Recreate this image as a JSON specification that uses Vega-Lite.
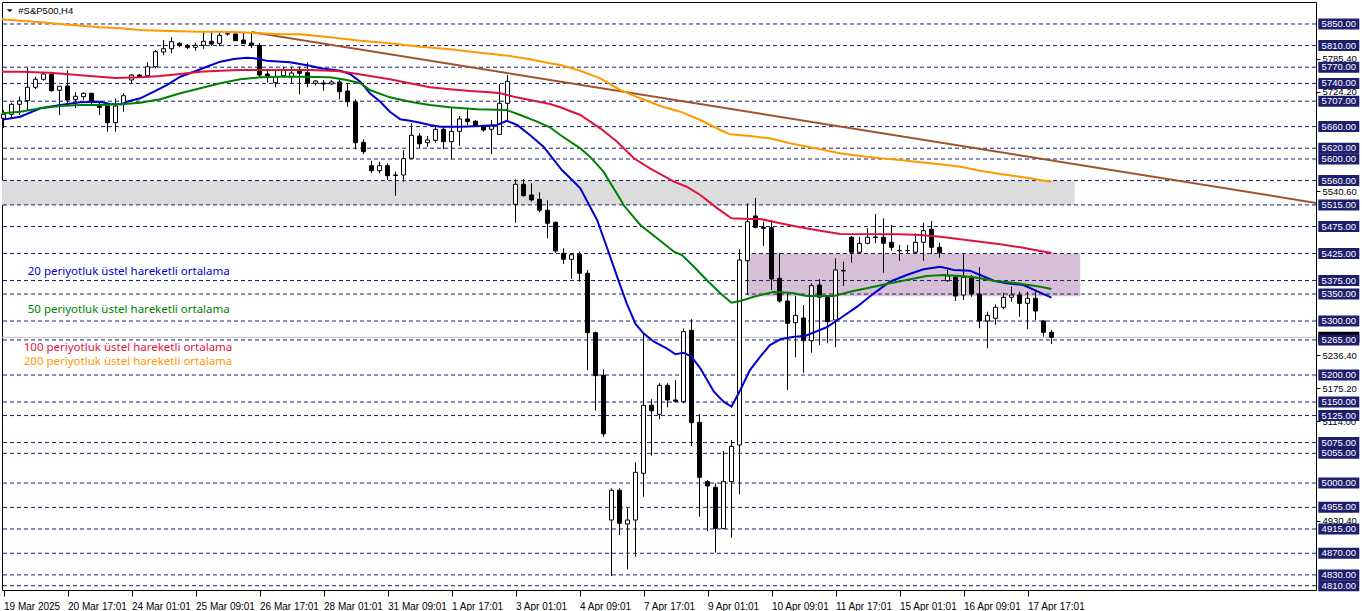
{
  "$schema": "https://vega.github.io/schema/vega-lite/v6.json",
  "width": 1314,
  "height": 588,
  "autosize": {"type": "none"},
  "padding": {"left": 2, "top": 2, "right": 46, "bottom": 21},
  "background": "white",
  "config": {"view": {"stroke": "black", "strokeWidth": 1}, "scale": {"continuousPadding": 0}},
  "datasets": {
    "zones": [
      {"z": "gray", "i0": -1, "i1": 133.9, "p0": 5515, "p1": 5560},
      {"z": "purple", "i0": 93, "i1": 134.6, "p0": 5346, "p1": 5425}
    ],
    "levels": [
      {"p": 5850}, {"p": 5810}, {"p": 5770}, {"p": 5740}, {"p": 5707}, {"p": 5660}, {"p": 5620}, {"p": 5600}, {"p": 5560},
      {"p": 5515}, {"p": 5475}, {"p": 5425}, {"p": 5375}, {"p": 5350}, {"p": 5300}, {"p": 5265}, {"p": 5200}, {"p": 5150},
      {"p": 5125}, {"p": 5075}, {"p": 5055}, {"p": 5000}, {"p": 4955}, {"p": 4915}, {"p": 4870}, {"p": 4830}, {"p": 4810}
    ],
    "bid": [{"p": 5269.8}],
    "trend": [{"i": 31, "p": 5835}, {"i": 170, "p": 5504.6}],
    "header": [{"t": "#S&P500,H4", "i": 1.85, "ti": 0.775, "p": 5874.6}],
    "notes": [
      {"n": "20", "t": "20 periyotluk üstel hareketli ortalama", "i": 3.03, "p": 5391.3},
      {"n": "50", "t": "50 periyotluk üstel hareketli ortalama", "i": 3.03, "p": 5320.4},
      {"n": "100", "t": "100 periyotluk üstel hareketli ortalama", "i": 2.53, "p": 5250.5},
      {"n": "200", "t": "200 periyotluk üstel hareketli ortalama", "i": 2.53, "p": 5225}
    ],
    "candles": [
      {"i":0,"o":5675.4,"h":5690.7,"l":5657.4,"c":5682.8},
      {"i":1,"o":5682.8,"h":5703.7,"l":5676,"c":5701.3},
      {"i":2,"o":5701.3,"h":5715.4,"l":5681.5,"c":5707.4},
      {"i":3,"o":5708,"h":5769,"l":5690.7,"c":5732.8},
      {"i":4,"o":5732.8,"h":5752.4,"l":5729.6,"c":5747.6},
      {"i":5,"o":5747.6,"h":5758.7,"l":5745,"c":5757.4},
      {"i":6,"o":5756.8,"h":5758.7,"l":5724.6,"c":5726.5},
      {"i":7,"o":5727.2,"h":5735.2,"l":5681.5,"c":5734.6},
      {"i":8,"o":5735.2,"h":5764.2,"l":5703.1,"c":5709.3},
      {"i":9,"o":5710.5,"h":5723.5,"l":5693.9,"c":5716.1},
      {"i":10,"o":5715.4,"h":5723.5,"l":5709.3,"c":5721.7},
      {"i":11,"o":5721.7,"h":5722.2,"l":5701.8,"c":5706.1},
      {"i":12,"o":5701.3,"h":5706.1,"l":5681.5,"c":5695.7},
      {"i":13,"o":5698.1,"h":5701.8,"l":5650.6,"c":5667.2},
      {"i":14,"o":5667.2,"h":5712.4,"l":5650.6,"c":5698.1},
      {"i":15,"o":5703.1,"h":5721.7,"l":5687.6,"c":5717.2},
      {"i":16,"o":5746.3,"h":5757.4,"l":5740.2,"c":5755.5},
      {"i":17,"o":5755.5,"h":5756.8,"l":5751.8,"c":5752.4},
      {"i":18,"o":5754.2,"h":5779,"l":5752.4,"c":5770.9},
      {"i":19,"o":5770.9,"h":5801.8,"l":5768,"c":5798.7},
      {"i":20,"o":5798.1,"h":5820.3,"l":5792.6,"c":5804.2},
      {"i":21,"o":5804.2,"h":5825.3,"l":5795.7,"c":5817.2},
      {"i":22,"o":5814.2,"h":5816.1,"l":5806.8,"c":5810.5},
      {"i":23,"o":5810.5,"h":5813,"l":5803.7,"c":5806.8},
      {"i":24,"o":5806.8,"h":5815.4,"l":5800.5,"c":5810.5},
      {"i":25,"o":5810.5,"h":5834.6,"l":5804.2,"c":5817.9},
      {"i":26,"o":5817.9,"h":5834.6,"l":5809.2,"c":5812.9},
      {"i":27,"o":5814.2,"h":5833.3,"l":5809.2,"c":5829},
      {"i":28,"o":5831.4,"h":5833.9,"l":5828.3,"c":5831.8},
      {"i":29,"o":5831.4,"h":5832.7,"l":5818.5,"c":5819},
      {"i":30,"o":5820.3,"h":5835.2,"l":5813,"c":5813.5},
      {"i":31,"o":5814.8,"h":5834.6,"l":5805.5,"c":5810.5},
      {"i":32,"o":5810.5,"h":5814.8,"l":5752.4,"c":5755.5},
      {"i":33,"o":5757.4,"h":5763.5,"l":5741.3,"c":5753.7},
      {"i":34,"o":5741.3,"h":5764.8,"l":5732.8,"c":5752.4},
      {"i":35,"o":5754.2,"h":5770.9,"l":5752.4,"c":5764.8},
      {"i":36,"o":5752.4,"h":5770.9,"l":5740.2,"c":5759.2},
      {"i":37,"o":5763.5,"h":5770.9,"l":5719.8,"c":5758.7},
      {"i":38,"o":5759.8,"h":5779,"l":5732.8,"c":5740.2},
      {"i":39,"o":5740.2,"h":5746.3,"l":5735.7,"c":5744.4},
      {"i":40,"o":5740.8,"h":5746.3,"l":5726.5,"c":5738.9},
      {"i":41,"o":5738.9,"h":5746.3,"l":5737.6,"c":5742.6},
      {"i":42,"o":5742.6,"h":5746.3,"l":5710.5,"c":5724.6},
      {"i":43,"o":5725.9,"h":5740.2,"l":5696.9,"c":5706.1},
      {"i":44,"o":5705.5,"h":5710.5,"l":5618,"c":5630.2},
      {"i":45,"o":5630.9,"h":5636.5,"l":5609.3,"c":5613.5},
      {"i":46,"o":5587.6,"h":5596.9,"l":5573.5,"c":5578.4},
      {"i":47,"o":5578.4,"h":5595,"l":5573.5,"c":5587.6},
      {"i":48,"o":5587.6,"h":5592.1,"l":5561.1,"c":5569.1},
      {"i":49,"o":5570.4,"h":5576.5,"l":5532,"c":5569.5},
      {"i":50,"o":5570.4,"h":5616.7,"l":5558,"c":5600.6},
      {"i":51,"o":5601.3,"h":5666.1,"l":5599.4,"c":5643.9},
      {"i":52,"o":5642.6,"h":5647.6,"l":5619.8,"c":5628.3},
      {"i":53,"o":5630.2,"h":5642.6,"l":5622.8,"c":5635.2},
      {"i":54,"o":5634.6,"h":5662.4,"l":5630.2,"c":5655},
      {"i":55,"o":5655,"h":5661.1,"l":5618,"c":5632.1},
      {"i":56,"o":5632.1,"h":5695.7,"l":5599.4,"c":5651.3},
      {"i":57,"o":5651.3,"h":5679.6,"l":5624.6,"c":5674.1},
      {"i":58,"o":5674.1,"h":5692,"l":5663,"c":5669.1},
      {"i":59,"o":5669.8,"h":5672.2,"l":5659.8,"c":5661.1},
      {"i":60,"o":5661.1,"h":5663,"l":5650.6,"c":5653.7},
      {"i":61,"o":5655,"h":5672.2,"l":5609.3,"c":5661.1},
      {"i":62,"o":5645.7,"h":5738.9,"l":5644.4,"c":5703.1},
      {"i":63,"o":5703.1,"h":5755,"l":5672.2,"c":5743.9},
      {"i":64,"o":5516.1,"h":5562.4,"l":5482.1,"c":5553.2},
      {"i":65,"o":5553.2,"h":5562.4,"l":5530.2,"c":5532.1},
      {"i":66,"o":5533.4,"h":5555,"l":5521,"c":5524.1},
      {"i":67,"o":5525.4,"h":5538.3,"l":5501.4,"c":5505.1},
      {"i":68,"o":5505.1,"h":5523.5,"l":5453.2,"c":5481},
      {"i":69,"o":5482.8,"h":5483.9,"l":5426.5,"c":5429.7},
      {"i":70,"o":5425.4,"h":5434.7,"l":5405.6,"c":5414.3},
      {"i":71,"o":5414.3,"h":5424.1,"l":5377.8,"c":5422.8},
      {"i":72,"o":5423.6,"h":5428.4,"l":5372.8,"c":5388.4},
      {"i":73,"o":5388.4,"h":5394.5,"l":5209.3,"c":5278.4},
      {"i":74,"o":5278.4,"h":5280.3,"l":5134,"c":5198.8},
      {"i":75,"o":5199.5,"h":5210.6,"l":5085.8,"c":5091.1},
      {"i":76,"o":4931.6,"h":4990.3,"l":4827.9,"c":4986.6},
      {"i":77,"o":4986.6,"h":4990.3,"l":4903.8,"c":4925.5},
      {"i":78,"o":4924.2,"h":4953.3,"l":4840.4,"c":4931.6},
      {"i":79,"o":4931.6,"h":5038.4,"l":4863.7,"c":5020},
      {"i":80,"o":5018.1,"h":5277.3,"l":4974.8,"c":5144},
      {"i":81,"o":5144,"h":5155.1,"l":5050.7,"c":5134},
      {"i":82,"o":5127.3,"h":5184.7,"l":5118,"c":5181},
      {"i":83,"o":5181,"h":5184.7,"l":5140.3,"c":5153.8},
      {"i":84,"o":5153.8,"h":5190.8,"l":5149.5,"c":5151.4},
      {"i":85,"o":5150.6,"h":5286.5,"l":5147.7,"c":5280.3},
      {"i":86,"o":5282.8,"h":5303.2,"l":5068.6,"c":5111.8},
      {"i":87,"o":5112.5,"h":5127.9,"l":4937.8,"c":5010.7},
      {"i":88,"o":5002.6,"h":5005.7,"l":4911.2,"c":4994.6},
      {"i":89,"o":4992.2,"h":4999.6,"l":4871.1,"c":4916.2},
      {"i":90,"o":4915.5,"h":5059.4,"l":4915.5,"c":5002.6},
      {"i":91,"o":5002.6,"h":5079.7,"l":4898.8,"c":5068},
      {"i":92,"o":5070.5,"h":5432.8,"l":4979.2,"c":5413},
      {"i":93,"o":5411.7,"h":5518,"l":5348.2,"c":5483.9},
      {"i":94,"o":5494.5,"h":5527.8,"l":5471.7,"c":5473.6},
      {"i":95,"o":5473.6,"h":5483.9,"l":5439,"c":5471.7},
      {"i":96,"o":5472.8,"h":5487.1,"l":5357.5,"c":5377.8},
      {"i":97,"o":5379.1,"h":5425.4,"l":5334,"c":5337.1},
      {"i":98,"o":5337.1,"h":5354.3,"l":5172.3,"c":5295.8},
      {"i":99,"o":5296.9,"h":5346.4,"l":5232.9,"c":5310.6},
      {"i":100,"o":5305.7,"h":5329.7,"l":5204.4,"c":5263.6},
      {"i":101,"o":5263.6,"h":5369.9,"l":5241.4,"c":5365.4},
      {"i":102,"o":5366.7,"h":5377.3,"l":5255.7,"c":5344},
      {"i":103,"o":5344,"h":5346.4,"l":5259,"c":5298.8},
      {"i":104,"o":5301.9,"h":5416.2,"l":5251.4,"c":5394.5},
      {"i":105,"o":5393.6,"h":5409.9,"l":5364.9,"c":5392.8},
      {"i":106,"o":5455,"h":5457.4,"l":5408,"c":5427.3},
      {"i":107,"o":5427.3,"h":5456.1,"l":5424.1,"c":5443.9},
      {"i":108,"o":5443.9,"h":5471.7,"l":5442.1,"c":5455},
      {"i":109,"o":5455.6,"h":5498.2,"l":5443.9,"c":5454.5},
      {"i":110,"o":5455,"h":5490.2,"l":5389.5,"c":5443.9},
      {"i":111,"o":5445.8,"h":5477.8,"l":5430.2,"c":5436.5},
      {"i":112,"o":5430.6,"h":5440.8,"l":5411.7,"c":5429.9},
      {"i":113,"o":5430.6,"h":5440.8,"l":5425.4,"c":5430.2},
      {"i":114,"o":5427.3,"h":5462.4,"l":5424.1,"c":5445.8},
      {"i":115,"o":5445.8,"h":5482.1,"l":5411.7,"c":5467.3},
      {"i":116,"o":5469.9,"h":5485.2,"l":5424.1,"c":5436.5},
      {"i":117,"o":5436.5,"h":5445,"l":5417.3,"c":5426.5},
      {"i":118,"o":5374.7,"h":5394.5,"l":5372.3,"c":5383.4},
      {"i":119,"o":5381,"h":5383.4,"l":5337.1,"c":5346.4},
      {"i":120,"o":5348.2,"h":5423.6,"l":5338.9,"c":5381},
      {"i":121,"o":5381,"h":5385.3,"l":5345,"c":5350.1},
      {"i":122,"o":5350.1,"h":5399.5,"l":5286.6,"c":5300.1},
      {"i":123,"o":5300.1,"h":5317.3,"l":5249.5,"c":5310.6},
      {"i":124,"o":5305.1,"h":5331,"l":5293,"c":5325.5},
      {"i":125,"o":5325.5,"h":5352.5,"l":5321.8,"c":5344},
      {"i":126,"o":5344,"h":5363.6,"l":5335.8,"c":5348.2},
      {"i":127,"o":5348.2,"h":5354.3,"l":5308,"c":5332.8},
      {"i":128,"o":5332.8,"h":5354.3,"l":5284.7,"c":5342.1},
      {"i":129,"o":5342.1,"h":5357.5,"l":5301.9,"c":5318.6},
      {"i":130,"o":5300.1,"h":5301.9,"l":5271,"c":5279.1},
      {"i":131,"o":5279.1,"h":5283.8,"l":5257.5,"c":5269.8}
    ],
    "ema": [
      {"n":"20","i":-0.4,"p":5672.2},{"n":"20","i":2.1,"p":5678.3},{"n":"20","i":4.6,"p":5693.9},{"n":"20","i":7.1,"p":5700},{"n":"20","i":9.6,"p":5705},{"n":"20","i":12.1,"p":5706.1},{"n":"20","i":13.3,"p":5701.8},{"n":"20","i":14.8,"p":5701.3},{"n":"20","i":15.4,"p":5706.1},{"n":"20","i":17.1,"p":5712.4},{"n":"20","i":18.8,"p":5724.6},{"n":"20","i":20.4,"p":5737},{"n":"20","i":22.1,"p":5752.4},{"n":"20","i":23.8,"p":5761.6},{"n":"20","i":25.4,"p":5770.9},{"n":"20","i":27.1,"p":5780.2},{"n":"20","i":28.8,"p":5785.2},{"n":"20","i":30.4,"p":5787.6},{"n":"20","i":31.3,"p":5786.5},{"n":"20","i":32.9,"p":5782},{"n":"20","i":35.8,"p":5779.1},{"n":"20","i":38.3,"p":5772.8},{"n":"20","i":39.6,"p":5768},{"n":"20","i":42.1,"p":5763.5},{"n":"20","i":43.3,"p":5757.4},{"n":"20","i":44.6,"p":5743.1},{"n":"20","i":45.8,"p":5721.7},{"n":"20","i":47.1,"p":5706.1},{"n":"20","i":48.3,"p":5687.6},{"n":"20","i":49.6,"p":5673.5},{"n":"20","i":50.8,"p":5670.9},{"n":"20","i":52.1,"p":5667.2},{"n":"20","i":53.3,"p":5663},{"n":"20","i":54.6,"p":5659.8},{"n":"20","i":57.1,"p":5659.8},{"n":"20","i":59.6,"p":5661.1},{"n":"20","i":61.7,"p":5663},{"n":"20","i":62.9,"p":5670.9},{"n":"20","i":64.2,"p":5663},{"n":"20","i":65.8,"p":5644.4},{"n":"20","i":67.5,"p":5622.8},{"n":"20","i":68.8,"p":5598.2},{"n":"20","i":69.8,"p":5579.6},{"n":"20","i":71.3,"p":5558},{"n":"20","i":72.1,"p":5545.8},{"n":"20","i":74.2,"p":5487.1},{"n":"20","i":75.4,"p":5437.6},{"n":"20","i":76.7,"p":5382.1},{"n":"20","i":77.9,"p":5332.8},{"n":"20","i":79,"p":5294.5},{"n":"20","i":80,"p":5277.3},{"n":"20","i":81.3,"p":5261.7},{"n":"20","i":82.9,"p":5249.5},{"n":"20","i":84,"p":5238.4},{"n":"20","i":85,"p":5241.4},{"n":"20","i":86,"p":5234},{"n":"20","i":87.1,"p":5212.5},{"n":"20","i":88.8,"p":5169.2},{"n":"20","i":90,"p":5150.6},{"n":"20","i":91,"p":5141.4},{"n":"20","i":92.1,"p":5172.3},{"n":"20","i":93.3,"p":5209.3},{"n":"20","i":94.6,"p":5234},{"n":"20","i":95.8,"p":5255.6},{"n":"20","i":97.1,"p":5266.2},{"n":"20","i":98.8,"p":5271},{"n":"20","i":100.2,"p":5272.3},{"n":"20","i":102.9,"p":5288.4},{"n":"20","i":104.6,"p":5305.1},{"n":"20","i":106.7,"p":5326.6},{"n":"20","i":108.8,"p":5351.3},{"n":"20","i":110.8,"p":5372.8},{"n":"20","i":112.9,"p":5385.2},{"n":"20","i":115,"p":5395.8},{"n":"20","i":117.1,"p":5400.6},{"n":"20","i":118.8,"p":5394.5},{"n":"20","i":120.8,"p":5393.2},{"n":"20","i":122.1,"p":5385.2},{"n":"20","i":123.8,"p":5374.7},{"n":"20","i":125.4,"p":5369.9},{"n":"20","i":127.5,"p":5366.7},{"n":"20","i":129.6,"p":5352.5},{"n":"20","i":131,"p":5343.2},
      {"n":"50","i":-0.4,"p":5684.6},{"n":"50","i":2.1,"p":5687.6},{"n":"50","i":4.6,"p":5693.9},{"n":"50","i":7.1,"p":5698.1},{"n":"50","i":9.6,"p":5700},{"n":"50","i":12.1,"p":5700},{"n":"50","i":14.6,"p":5701.3},{"n":"50","i":17.1,"p":5704.3},{"n":"50","i":19.6,"p":5710.5},{"n":"50","i":22.1,"p":5721.7},{"n":"50","i":24.6,"p":5730.9},{"n":"50","i":27.1,"p":5740.2},{"n":"50","i":29.6,"p":5747.6},{"n":"50","i":32.1,"p":5751.3},{"n":"50","i":34.6,"p":5752.4},{"n":"50","i":37.1,"p":5752.4},{"n":"50","i":40.8,"p":5751.3},{"n":"50","i":42.9,"p":5746.3},{"n":"50","i":44.6,"p":5740.2},{"n":"50","i":45.8,"p":5727.8},{"n":"50","i":48.3,"p":5714.2},{"n":"50","i":50.8,"p":5706.1},{"n":"50","i":53.3,"p":5700},{"n":"50","i":55.8,"p":5695.7},{"n":"50","i":59.2,"p":5692},{"n":"50","i":62.9,"p":5690.7},{"n":"50","i":64.6,"p":5681.5},{"n":"50","i":66.7,"p":5669.1},{"n":"50","i":68.3,"p":5658.7},{"n":"50","i":69.6,"p":5644.4},{"n":"50","i":72.1,"p":5619.8},{"n":"50","i":73.3,"p":5604.3},{"n":"50","i":75,"p":5576.5},{"n":"50","i":77.1,"p":5525.4},{"n":"50","i":77.5,"p":5514.8},{"n":"50","i":79.6,"p":5477.8},{"n":"50","i":81.7,"p":5453.2},{"n":"50","i":83.8,"p":5428.4},{"n":"50","i":84.8,"p":5422.3},{"n":"50","i":86.3,"p":5400.6},{"n":"50","i":87.9,"p":5376},{"n":"50","i":89.6,"p":5351.3},{"n":"50","i":91,"p":5333.9},{"n":"50","i":92.1,"p":5337.1},{"n":"50","i":93.8,"p":5345.1},{"n":"50","i":96.3,"p":5354.3},{"n":"50","i":98.8,"p":5351.3},{"n":"50","i":100.4,"p":5346.4},{"n":"50","i":103.8,"p":5346.4},{"n":"50","i":105.8,"p":5354.3},{"n":"50","i":108.8,"p":5363.6},{"n":"50","i":110.8,"p":5369.9},{"n":"50","i":112.9,"p":5376},{"n":"50","i":115.4,"p":5383.4},{"n":"50","i":117.5,"p":5385.2},{"n":"50","i":119.6,"p":5383.4},{"n":"50","i":121.3,"p":5381},{"n":"50","i":123.8,"p":5374.7},{"n":"50","i":126.7,"p":5369.9},{"n":"50","i":129.6,"p":5363.6},{"n":"50","i":131,"p":5359.3},
      {"n":"100","i":-0.4,"p":5761.6},{"n":"100","i":2.1,"p":5761.6},{"n":"100","i":5.8,"p":5759.8},{"n":"100","i":10.8,"p":5753.7},{"n":"100","i":14,"p":5750},{"n":"100","i":17.1,"p":5751.3},{"n":"100","i":19.6,"p":5753.7},{"n":"100","i":22.1,"p":5757.4},{"n":"100","i":24.6,"p":5761.6},{"n":"100","i":27.1,"p":5763.5},{"n":"100","i":29.6,"p":5764.8},{"n":"100","i":34.6,"p":5764.8},{"n":"100","i":38.3,"p":5764.8},{"n":"100","i":41.7,"p":5763},{"n":"100","i":43.3,"p":5759.8},{"n":"100","i":45.8,"p":5753.7},{"n":"100","i":48.3,"p":5747.6},{"n":"100","i":50.8,"p":5740.2},{"n":"100","i":53.3,"p":5732.8},{"n":"100","i":55.8,"p":5729.1},{"n":"100","i":58.3,"p":5725.9},{"n":"100","i":60.4,"p":5724.1},{"n":"100","i":62.1,"p":5721.7},{"n":"100","i":63.8,"p":5715.4},{"n":"100","i":65.8,"p":5709.3},{"n":"100","i":68.3,"p":5701.8},{"n":"100","i":69.6,"p":5695.7},{"n":"100","i":72.1,"p":5681.5},{"n":"100","i":74.6,"p":5656.8},{"n":"100","i":76.7,"p":5632.1},{"n":"100","i":78.8,"p":5601.3},{"n":"100","i":80.8,"p":5582.8},{"n":"100","i":83.8,"p":5558},{"n":"100","i":85.4,"p":5548.7},{"n":"100","i":87.1,"p":5533.4},{"n":"100","i":89.2,"p":5509.1},{"n":"100","i":91,"p":5490.2},{"n":"100","i":93.3,"p":5488.9},{"n":"100","i":94.6,"p":5488.9},{"n":"100","i":97.1,"p":5481},{"n":"100","i":99.6,"p":5473.6},{"n":"100","i":102.1,"p":5467.3},{"n":"100","i":104.6,"p":5461.2},{"n":"100","i":112.1,"p":5460.6},{"n":"100","i":114.6,"p":5459.3},{"n":"100","i":117.1,"p":5456.1},{"n":"100","i":119.6,"p":5451.3},{"n":"100","i":122.1,"p":5446.9},{"n":"100","i":124.6,"p":5442.1},{"n":"100","i":127.1,"p":5436.5},{"n":"100","i":129.6,"p":5429.7},{"n":"100","i":131,"p":5426},
      {"n":"200","i":-0.4,"p":5859.2},{"n":"200","i":2.1,"p":5856.1},{"n":"200","i":4.6,"p":5853.1},{"n":"200","i":7.1,"p":5850},{"n":"200","i":9.6,"p":5846.8},{"n":"200","i":12.1,"p":5843.9},{"n":"200","i":14.6,"p":5842},{"n":"200","i":17.1,"p":5838.9},{"n":"200","i":19.6,"p":5837.6},{"n":"200","i":24.6,"p":5835.7},{"n":"200","i":27.1,"p":5835.7},{"n":"200","i":29.6,"p":5834.6},{"n":"200","i":32.1,"p":5832.7},{"n":"200","i":34.6,"p":5830.9},{"n":"200","i":37.1,"p":5830.9},{"n":"200","i":40.8,"p":5825.3},{"n":"200","i":44.6,"p":5819},{"n":"200","i":48.3,"p":5814.2},{"n":"200","i":52.1,"p":5807.9},{"n":"200","i":55.8,"p":5803.1},{"n":"200","i":59.6,"p":5796.8},{"n":"200","i":63.3,"p":5790.7},{"n":"200","i":65.8,"p":5784.6},{"n":"200","i":68.3,"p":5777.2},{"n":"200","i":69.6,"p":5774.1},{"n":"200","i":72.1,"p":5763.5},{"n":"200","i":74.6,"p":5749.4},{"n":"200","i":77.1,"p":5727.8},{"n":"200","i":79.6,"p":5712.4},{"n":"200","i":82.1,"p":5698.1},{"n":"200","i":84.6,"p":5687.6},{"n":"200","i":87.1,"p":5672.2},{"n":"200","i":89.6,"p":5653.7},{"n":"200","i":90.8,"p":5645.7},{"n":"200","i":93.3,"p":5642.6},{"n":"200","i":95.8,"p":5638.3},{"n":"200","i":98.3,"p":5629.1},{"n":"200","i":100.8,"p":5621.7},{"n":"200","i":104.6,"p":5610.6},{"n":"200","i":107.1,"p":5605.6},{"n":"200","i":109.6,"p":5601.3},{"n":"200","i":112.1,"p":5598.2},{"n":"200","i":114.6,"p":5593.9},{"n":"200","i":117.1,"p":5590.2},{"n":"200","i":119.6,"p":5585.8},{"n":"200","i":122.1,"p":5578.4},{"n":"200","i":124.6,"p":5572.2},{"n":"200","i":127.1,"p":5567.2},{"n":"200","i":129.6,"p":5561.1},{"n":"200","i":131,"p":5558}
    ]
  },
  "layer": [
    {
      "data": {"name": "zones"},
      "mark": {"type": "rect", "clip": true},
      "encoding": {
        "x": {
          "field": "i0", "type": "quantitative",
          "scale": {"domain": [-0.1875, 164.0625], "nice": false, "zero": false, "padding": 0},
          "axis": {
            "values": [0, 8, 16, 24, 32, 40, 48, 56, 64, 72, 80, 88, 96, 104, 112, 120, 128],
            "labelExpr": "['19 Mar 2025','20 Mar 17:01','24 Mar 01:01','25 Mar 09:01','26 Mar 17:01','28 Mar 01:01','31 Mar 09:01','1 Apr 17:01','3 Apr 01:01','4 Apr 09:01','7 Apr 17:01','9 Apr 01:01','10 Apr 09:01','11 Apr 17:01','15 Apr 01:01','16 Apr 09:01','17 Apr 17:01'][round(datum.value/8)]",
            "labelAlign": "left", "labelBaseline": "alphabetic", "labelPadding": 13, "labelDx": 1,
            "tickSize": 6, "tickColor": "black", "domain": false, "grid": false, "title": null,
            "labelFont": "Liberation Sans", "labelFontSize": 10, "labelColor": "black",
            "labelOverlap": false, "labelBound": false, "labelFlush": false
          }
        },
        "x2": {"field": "i1"},
        "y": {
          "field": "p0", "type": "quantitative",
          "scale": {"domain": [4802, 5890.7], "nice": false, "zero": false, "padding": 0},
          "axis": {
            "orient": "right",
            "values": [5785.4, 5724.2, 5540.6, 5236.4, 5175.2, 5114.0, 4930.4],
            "format": ".2f", "labelFont": "Liberation Sans", "labelFontSize": 9.5, "labelColor": "black",
            "tickSize": 4, "tickColor": "black", "labelPadding": 2, "domain": false, "grid": false, "title": null,
            "labelOverlap": false, "labelBound": false, "labelBaseline": "middle"
          }
        },
        "y2": {"field": "p1"},
        "fill": {"field": "z", "type": "nominal", "scale": {"domain": ["gray", "purple"], "range": ["#DCDCDC", "#D8BFD8"]}, "legend": null}
      }
    },
    {
      "data": {"name": "levels"},
      "mark": {"type": "rule", "color": "#1e1e6e", "strokeWidth": 1, "strokeDash": [4, 3]},
      "encoding": {
        "y": {"field": "p", "type": "quantitative"}
      }
    },
    {
      "data": {"name": "bid"},
      "mark": {"type": "rule", "color": "#C0C0C0", "strokeWidth": 1},
      "encoding": {
        "y": {"field": "p", "type": "quantitative"}
      }
    },
    {
      "data": {"name": "candles"},
      "mark": {"type": "rule", "color": "black", "strokeWidth": 1},
      "encoding": {
        "x": {"field": "i", "type": "quantitative"},
        "y": {"field": "l", "type": "quantitative"},
        "y2": {"field": "h"}
      }
    },
    {
      "data": {"name": "candles"},
      "mark": {"type": "bar", "orient": "vertical", "width": 4, "stroke": "black", "strokeWidth": 1},
      "encoding": {
        "x": {"field": "i", "type": "quantitative"},
        "y": {"field": "o", "type": "quantitative"},
        "y2": {"field": "c"},
        "fill": {"condition": {"test": "datum.c >= datum.o", "value": "white"}, "value": "black"}
      }
    },
    {
      "data": {"name": "trend"},
      "mark": {"type": "line", "color": "#A0522D", "strokeWidth": 2, "clip": true},
      "encoding": {
        "x": {"field": "i", "type": "quantitative"},
        "y": {"field": "p", "type": "quantitative"}
      }
    },
    {
      "data": {"name": "ema"},
      "mark": {"type": "line", "strokeWidth": 2, "clip": true},
      "encoding": {
        "x": {"field": "i", "type": "quantitative"},
        "y": {"field": "p", "type": "quantitative"},
        "color": {"field": "n", "type": "nominal", "scale": {"domain": ["20", "50", "100", "200"], "range": ["#0000CD", "#008000", "#DC143C", "#FF9900"]}, "legend": null}
      }
    },
    {
      "data": {"name": "notes"},
      "mark": {"type": "text", "align": "left", "baseline": "middle", "font": "Noto Sans", "fontSize": 11.5},
      "encoding": {
        "x": {"field": "i", "type": "quantitative"},
        "y": {"field": "p", "type": "quantitative"},
        "text": {"field": "t"},
        "color": {"field": "n", "type": "nominal", "legend": null}
      }
    },
    {
      "data": {"name": "header"},
      "mark": {"type": "text", "align": "left", "baseline": "middle", "font": "Liberation Sans", "fontSize": 9.5, "color": "black"},
      "encoding": {
        "x": {"field": "i", "type": "quantitative"},
        "y": {"field": "p", "type": "quantitative"},
        "text": {"field": "t"}
      }
    },
    {
      "data": {"name": "header"},
      "mark": {"type": "point", "shape": "M-1,-0.45L1,-0.45L0,0.45Z", "size": 36, "filled": true, "color": "black", "opacity": 1},
      "encoding": {
        "x": {"field": "ti", "type": "quantitative"},
        "y": {"field": "p", "type": "quantitative"}
      }
    },
    {
      "data": {"name": "bid"},
      "mark": {"type": "bar", "orient": "horizontal", "height": 11, "color": "black"},
      "encoding": {
        "y": {"field": "p", "type": "quantitative"},
        "x": {"datum": 164.35, "type": "quantitative"},
        "x2": {"datum": 169.475}
      }
    },
    {
      "data": {"name": "levels"},
      "mark": {"type": "bar", "orient": "horizontal", "height": 11, "color": "#1e1e6e"},
      "encoding": {
        "y": {"field": "p", "type": "quantitative"},
        "x": {"datum": 164.35, "type": "quantitative"},
        "x2": {"datum": 169.475}
      }
    },
    {
      "data": {"name": "levels"},
      "mark": {"type": "text", "align": "center", "baseline": "middle", "font": "Liberation Sans", "fontSize": 9.5, "color": "white"},
      "encoding": {
        "y": {"field": "p", "type": "quantitative"},
        "x": {"datum": 166.91, "type": "quantitative"},
        "text": {"field": "p", "type": "quantitative", "format": ".2f"}
      }
    }
  ]
}
